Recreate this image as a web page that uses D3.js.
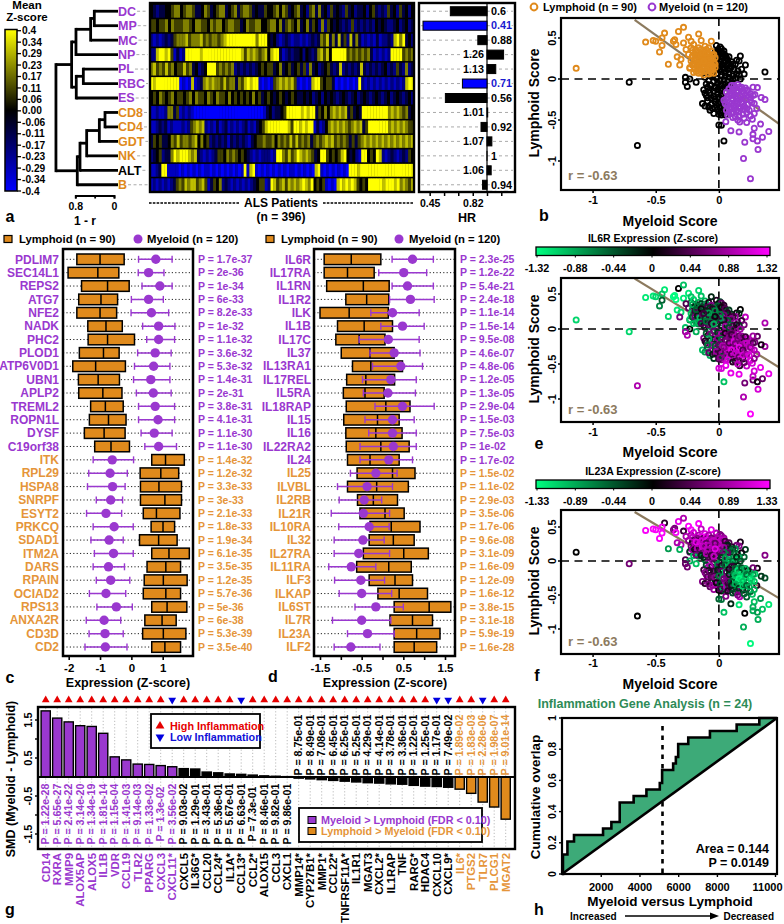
<!DOCTYPE html>
<html><head><meta charset="utf-8">
<script src="https://cdn.jsdelivr.net/npm/d3@7"></script>
<style>html,body{margin:0;padding:0;background:#fff}svg{display:block}text{font-family:"Liberation Sans",Arial,sans-serif;font-weight:bold}</style>
</head><body><div id="chart"></div>
<script>
const PURPLE="#9a38cf",ORANGE="#e08a1c",TXTOR="#e5953a",BROWN="#8c7a5e",GREEN="#2e8b57";
// ---------- panel a ----------
const cellNames=["DC","MP","MC","NP","PL","RBC","ES","CD8","CD4","GDT","NK","ALT","B"];
const cellGroup=["m","m","m","m","m","m","m","l","l","l","l","a","l"];
const hrValues=[0.6,0.41,0.88,1.26,1.13,0.71,0.56,1.01,0.92,1.07,1,1.06,0.94];
const hrTicks=[0.45,0.55,0.67,0.82,1,1.22];
const cbLabels=["0.4","0.34","0.29","0.23","0.17","0.11","0.06","0.00","-0.06","-0.11","-0.17","-0.23","-0.29","-0.34","-0.4"];
// heat rows: one digit per patient group, 0 = -0.4 (blue), 4 = 0 (black), 8 = +0.4 (yellow)
const heatRows=[
"43233445664566533465345663456356653433544564653456"+"34256363425343253423342453232534253424",
"55455646555665466554656645665534655664456646356546"+"34635426254343232523232324343223423423",
"21212323566675666756566567888888888868884342123212"+"2121232"+"365736373527363"+"12121312232"+"7868"+"342",
"22788785131288888788888888888887576765674788312323"+"3424323"+"67574"+"88888"+"565656563"+"121212"+"8888"+"5656",
"67565756455756342348885656562323232345455346345345"+"35263423453237232323732323234232532623",
"87888888880101712367676657566365787881010156767675"+"10101"+"788"+"54553"+"01010101"+"8"+"212121212121212"+"788",
"45465456455456465546546554645454546453454345434543"+"34342342434323432342343234323423432342",
"11211266351212100000000000000000000000013423345888"+"8878788"+"35464"+"676767"+"35343"+"88"+"8888888"+"6767656"+"34",
"11232312111212567672121312312121231213457888888875"+"8878788"+"1312"+"4676767656767"+"35"+"8888888"+"6767676"+"55",
"35453346575665674645232323132323213455655646565757"+"5656356567"+"6756565353"+"56"+"76767676767"+"676767",
"23452336878887673212123554656545432121222128865756"+"876765"+"34"+"88"+"54545"+"78"+"4342"+"1"+"88"+"454"+"87"+"212321232"+"54",
"11238811110101010101101010101010181781010101010101"+"10101010"+"78"+"1010101010"+"888788"+"88888888888888888",
"12121212356576775675135462321212121234551287567576"+"7678768"+"4545"+"1010"+"7878787"+"5454"+"8"+"8888788878"+"67657"
];
// dendrogram: [children..., height in 1-r]
const dendro={h:1.2,c:[
 {h:.876,c:[
  {h:.786,c:[{h:.483,c:[{h:.407,c:[{n:"DC"},{n:"MP"}]},{n:"MC"}]},{n:"NP"}]},
  {h:.78,c:[{h:.634,c:[{n:"PL"},{n:"RBC"}]},{n:"ES"}]}]},
 {h:.759,c:[{h:.703,c:[{h:.565,c:[{h:.303,c:[{h:.186,c:[{n:"CD8"},{n:"CD4"}]},{n:"GDT"}]},{n:"NK"}]},{n:"ALT"}]},{n:"B"}]}
]};
// ---------- panels c, d: [q1, median, q3, whiskLow, whiskHigh, myeloid point] ----------
const genesC=["PDLIM7","SEC14L1","REPS2","ATG7","NFE2","NADK","PHC2","PLOD1","ATP6V0D1","UBN1","APLP2","TREML2","ROPN1L","DYSF","C19orf38","ITK","RPL29","HSPA8","SNRPF","ESYT2","PRKCQ","SDAD1","ITM2A","DARS","RPAIN","OCIAD2","RPS13","ANXA2R","CD3D","CD2"];
const pC=["1.7e-37","2e-36","1e-34","6e-33","8.2e-33","1e-32","1.1e-32","3.6e-32","5.3e-32","1.4e-31","2e-31","3.8e-31","4.1e-31","1.1e-30","1.1e-30","1.4e-32","1.2e-32","3.3e-33","3e-33","2.1e-33","1.8e-33","1.9e-34","6.1e-35","3.5e-35","1.2e-35","5.7e-36","5e-36","6e-38","5.3e-39","3.5e-40"];
const statsC=[[-1.74,-1,-.23,.23,1.3,.78],[-2.02,-1.07,-.4,.22,1.04,.55],[-1.59,-.76,-.07,.34,1.3,.91],[-1.68,-.97,-.44,0,1.02,.55],[-1.74,-1,-.47,-.01,1.19,.64],[-1.39,-.81,-.29,.36,1.39,.87],[-1.38,-.76,.1,.49,1.38,.87],[-1.66,-.89,-.39,.2,1.27,.76],[-1.87,-1.14,-.19,.1,1.23,.71],[-1.69,-1.06,-.38,.07,1.23,.62],[-1.68,-.91,-.3,.16,1.27,.7],[-1.3,-.83,-.26,.23,1.38,.76],[-1.34,-.73,-.17,.23,1.38,.85],[-1.5,-.87,-.2,.31,1.3,.73],[-1.17,-.65,-.06,.43,1.44,.87],
[.65,1.09,1.69,-1.22,.07,-.61],[.28,.94,1.51,-1.36,-.13,-.68],[.29,.88,1.6,-1.4,-.2,-.6],[.29,1.07,1.6,-1.12,-.28,-.66],[.38,.8,1.55,-1.43,-.31,-.81],[.63,1.01,1.38,-1.22,.06,-.55],[.26,.87,1.46,-1.29,-.26,-.71],[.65,1.2,1.85,-1.18,.06,-.57],[.5,1.1,1.57,-1.22,-.22,-.73],[.41,1.02,1.78,-1.12,-.05,-.66],[.38,1.1,1.57,-1.34,-.18,-.81],[.65,1.14,1.77,-1.1,.03,-.48],[.43,.98,1.43,-1.44,-.34,-.87],[.36,1.02,1.74,-1.35,-.26,-.84],[.65,1.07,1.57,-1.48,-.14,-.83]];
const genesD=["IL6R","IL17RA","IL1RN","IL1R2","ILK","IL1B","IL17C","IL37","IL13RA1","IL17REL","IL5RA","IL18RAP","IL15","IL16","IL22RA2","IL24","IL25","ILVBL","IL2RB","IL21R","IL10RA","IL32","IL27RA","IL11RA","ILF3","ILKAP","IL6ST","IL7R","IL23A","ILF2"];
const pD=["2.3e-25","1.2e-22","5.4e-21","2.4e-18","1.1e-14","1.5e-14","9.5e-08","4.6e-07","4.8e-06","1.2e-05","1.3e-05","2.9e-04","1.5e-03","7.5e-03","1e-02","1.7e-02","1.5e-02","1.1e-02","2.9e-03","3.5e-06","1.7e-06","9.6e-08","3.1e-09","1.6e-09","1.2e-09","1.6e-12","3.8e-15","3.1e-18","5.9e-19","1.6e-28"];
const statsD=[[-1.4,-.75,-.04,.23,1.22,.72],[-1.4,-.84,-.2,-.09,1.06,.51],[-1.34,-.46,.16,.23,1.22,.6],[-.88,-.38,.15,.17,1.24,.67],[-1.5,-.8,.14,-.28,.88,.24],[-1.08,-.44,.24,-.04,1,.48],[-1.12,-.56,.06,-.56,.88,.14],[-.99,-.3,.28,-.3,.9,.28],[-.72,-.28,.48,-.24,.96,.44],[-.86,-.4,.29,-.48,.81,.2],[-.94,-.42,.04,-.46,.79,.13],[-.87,.08,.66,-.18,1.24,.48],[-.93,-.12,.4,-.42,.76,.24],[-.88,-.16,.47,-.33,.81,.24],[-.87,-.04,.64,-.54,.81,.26],[-.84,-.3,.4,-.54,.72,.15],
[-.61,.24,.78,-.77,.35,-.16],[-.84,-.14,.62,-1.08,.24,-.37],[-.6,-.22,.36,-1.04,-.02,-.44],[-.54,.06,.52,-1.23,.17,-.46],[-.3,.21,.9,-1.05,.16,-.32],[-.32,.26,.76,-1.16,.04,-.47],[-.46,.51,1.1,-1.16,.17,-.57],[-.62,.15,.69,-1.29,-.16,-.75],[-.32,.3,.72,-1.15,.05,-.52],[-.11,.4,1.08,-1.04,.22,-.5],[.28,1.12,1.64,-.66,.5,-.16],[.18,.72,1.2,-1.2,.2,-.5],[.28,.82,1.38,-.84,.28,-.36],[.28,.76,1.3,-1.16,-.06,-.76]];
// ---------- panels b, e, f: [myeloid, lymphoid, IL6R z, IL23A z] ----------
const lymphPts=[[-1.13,.13,-1.1,0],[-.58,.45,-1.2,1.3],[-.52,.47,-1.2,1.3],[-.5,.46,-1.1,1.3],[-.43,.56,-1.2,.2],[-.45,.5,-1,1.3],[-.47,.33,-.7,1.3],[-.45,.41,-.5,1.3],[-.4,.18,-1.1,-.8],[-.35,.48,-1.3,.6],[-.36,.46,-1.3,.7],[-.34,.42,-1.3,1.3],[-.32,.58,0,1.2],[-.28,.63,-1,.9],[-.24,.51,-1.2,1.3],[-.28,.44,-1.2,.3],[-.16,.55,-1.1,1.3],[-.14,.47,-1,1],[-.33,.27,-1.2,.9],[-.3,.24,-1.1,.9],[-.31,.17,.6,-.9],[-.23,.13,-.5,.9],[-.22,.46,-1,1.3],[-.06,.46,-.2,1.2],[-.11,.4,-.9,1.1],[-.22,.38,-.7,.8],[-.2,.42,-1.1,1.1],[-.18,.35,.1,1.3],[-.16,.38,-.9,.9],[-.14,.36,-.3,1.2],[-.12,.33,.4,.2],[-.1,.36,-.8,1.3],[-.08,.38,.1,.9],[-.06,.34,.7,.6],[-.04,.3,-.6,1],[-.24,.3,.5,.7],[-.21,.28,-.8,.1],[-.19,.31,-.2,.4],[-.17,.27,.6,1],[-.15,.3,-.7,.3],[-.13,.26,.2,.2],[-.11,.29,-.9,1.1],[-.09,.27,.7,.5],[-.07,.25,-.5,1.2],[-.05,.24,.3,.8],[-.22,.22,-1,.6],[-.2,.2,-.6,.3],[-.18,.23,.4,.2],[-.16,.19,-.8,-.2],[-.14,.22,0,.9],[-.12,.18,-.5,.1],[-.1,.21,.6,.4],[-.08,.19,-.9,1.2],[-.06,.17,.2,.7],[-.04,.2,-.3,.9],[-.23,.14,-1.1,-.3],[-.19,.12,-.4,.3],[-.17,.15,-.9,-.1],[-.15,.11,.3,-.5],[-.13,.14,-.6,.5],[-.11,.09,.7,-.4],[-.09,.13,-.2,.6],[-.07,.1,-1,.2],[-.05,.12,.4,1],[-.03,.14,-.5,.5],[-.16,.07,-.7,-.7],[-.12,.05,-.2,-.2],[-.08,.06,.5,.4],[-.2,.08,-1,-1],[-.26,.36,.4,.9],
[-.21,.35,-.9,1],[-.19,.25,.3,.9],[-.17,.33,-.6,.7],[-.15,.25,.5,1.1],[-.13,.31,-.4,.9],[-.11,.24,-.7,.6],[-.09,.31,.4,1.2],[-.07,.3,-.3,.8],[-.05,.29,.2,1],[-.03,.26,-.7,.5],[-.21,.17,-.5,.8],[-.19,.17,.6,.2],[-.17,.19,-.2,.9],[-.15,.16,-1,.4],[-.13,.21,.5,1.1],[-.11,.15,-.3,.7],[-.09,.17,-.8,1],[-.07,.15,.3,.3],[-.05,.16,-.6,.8],[-.03,.18,.1,1.2],[-.18,.09,-.9,.6],[-.14,.08,.4,-.2],[-.1,.11,-.6,.9],[-.06,.08,.2,.3],[-.04,.07,-.9,1],[-.18,.28,-.5,1.2],[-.14,.29,.1,1.1],[-.1,.26,-.2,.5],[-.08,.23,-.8,.9],[-.12,.22,.3,1]];
const otherPts=[[-.71,-.04,-1.1,.6],[-.645,-.81,.9,0],[.365,.085,.9,.7],[.04,-.755,-1,-1],[0,-.56,1.1,-.5],[.02,-.565,1.1,-.6],[-.02,.41,.2,.9],[.01,.39,-.4,.6],[-.005,.36,-.1,1],[.02,.37,.5,.7],[.035,.31,.4,1.1],[-.03,.33,-.2,.8],[0,.3,-.3,.5],[.03,.28,.7,.4],[-.01,.27,.1,1.2],[.06,.26,-.6,.3],[.17,.28,0,.1],[.14,.23,.1,.6],[.16,.22,-.2,.7],[.21,.17,1,-.3],[.13,.18,.8,-.8],[.1,.21,-.2,.2],[.08,.19,.5,.6],[.05,.22,-.4,-.1],[.02,.24,.2,.7],[-.02,.22,-.7,1.1],[0,.19,.3,1],[.03,.17,-.9,-.3],[.06,.16,.9,.2],[.09,.13,.6,-.7],[.12,.12,-.4,-.3],[.15,.1,.9,-.6],[.18,.12,.3,.1],[.2,.06,.6,-.5],[.16,.05,-.3,-.9],[-.03,.13,-.8,.9],[0,.11,.2,.6],[.02,.09,-1,.4],[.05,.08,.7,.8],[.08,.06,-.6,-.2],[.11,.04,.4,-.8],[.13,.01,.1,-1.1],[-.265,.02,-1,.4],[-.23,0,0,-.9],[-.265,-.04,.8,.5],[-.25,-.09,.9,.6],[-.18,-.04,-.9,-1],[-.11,.02,.3,-.6],[-.08,-.02,-.2,.9],[-.05,.03,.7,.7],[-.02,.01,-.7,-.3],[.01,-.02,.5,-.8],[.04,-.01,-.1,.2],[.07,-.03,.8,-1.2],[.1,-.05,.4,-.5],[-.12,-.13,.7,.3],[-.09,-.1,.1,.8],[-.06,-.08,-.8,-.1],[-.03,-.11,.9,.7],[0,-.09,-.4,.4],[.03,-.12,.3,-.9],[.06,-.1,.7,-1],[-.1,-.2,.3,.5],[-.07,-.17,-.3,-.2],[-.04,-.21,.8,.6],[-.01,-.18,.2,-.4],[.02,-.2,.6,-.1],[-.13,-.3,-1,.7],[-.09,-.27,.4,.9],[-.06,-.31,.9,.1],[-.03,-.28,-.4,-.2],[0,-.3,.8,.3],[.03,-.27,.2,-.3],[-.07,-.38,-.9,.5],[-.04,-.42,-.3,.8],[-.01,-.37,.7,.2],[.02,-.44,.6,-.1],[.05,-.44,1,-.4],[0,-.43,.4,0],[-.03,-.35,.3,.9],
[.04,.34,.2,.8],[-.01,.33,-.5,.9],[.02,.31,.1,1],[.05,.29,.4,.3],[.08,.27,-.3,.4],[.07,.23,.2,-.2],[.04,.2,.6,.8],[.01,.21,-.6,.9],[.11,.18,.3,-.4],[.1,.15,.7,-.6],[.07,.12,-.5,.5],[.04,.13,.2,-.7],[.01,.15,-.8,.6],[-.02,.16,.3,1],[-.04,.09,-.6,.7],[-.01,.07,.4,.4],[.02,.05,-.2,-.3],[.05,.04,.8,-.8],[.08,.02,-.4,-.9],[.11,0,.6,-.6],[.14,.06,.2,-.2],[.17,0,.8,-.4],[-.07,.04,-.7,.8],[-.04,-.03,.5,.5],[-.01,-.05,-.3,-.7],[.02,-.07,.9,.2],[.05,-.06,.1,-.5],[.08,-.08,.5,-.9],[-.1,-.06,-.5,-.4],[-.07,-.07,.6,.9],[-.04,-.15,-.2,.3],[-.01,-.13,.7,-.2],[.02,-.15,-.6,.5],[.05,-.16,.4,-1],[-.08,-.14,-.9,.2],[-.11,-.17,.2,.7],[-.06,-.23,.8,.4],[-.03,-.24,-.5,.7],[0,-.22,.5,-.6],[.03,-.24,.9,-.8],[-.09,-.23,-.6,.5],[-.11,-.33,-.8,.2],[-.08,-.34,.5,.6],[-.05,-.36,-.2,.8],[-.02,-.32,.8,.1],[.01,-.34,.3,-.4],[.04,-.33,.9,-.3],[.03,-.39,-.4,-.9],[.01,-.41,.7,.4]];
const myelPts=[[.25,-1.215,1.3,-1.3],[.195,-.97,.9,-.9],[.31,-.86,1.1,-.9],[.205,-.77,.6,0],[.27,-.73,.5,-.9],[.305,-.755,.1,-.8],[.345,-.71,.5,-1],[.395,-.64,1.2,-1.2],[.33,-.55,1.2,-.8],[.28,-.6,1.1,-1],[.27,-.675,1,-.9],[.095,-.63,1.2,-.2],[.16,-.645,1.2,-1.2],[.055,-.52,1.2,.7],[.165,-.525,.2,.9],[.22,-.53,1,-.5],[.265,-.49,1.1,-1],[.365,-.25,.8,-.4],[.335,-.225,.1,-.3],[.305,-.105,.5,.1],[.27,-.1,.8,.6],[.22,-.135,.9,-1],[.285,-.19,.6,-1.1],[.25,-.18,.7,-1.2],[.3,-.36,.9,.2],[.05,-.3,.5,.8],[.07,-.22,.9,.9],[.09,-.17,1,-.1],[.06,-.38,.7,.9],[.1,-.42,-.9,.3],[.12,-.08,.6,.2],[.15,-.07,.9,-.2],[.11,-.13,.3,-.9],[.14,-.16,1,-.6],[.17,-.12,.5,-1],[.08,-.28,1.2,.6],[.11,-.25,.7,-.3],[.14,-.24,1.2,-1.2],[.17,-.2,.9,-1.1],[.2,-.17,.2,-.5],[.23,-.14,1,-.2],[.09,-.34,.8,-.4],[.12,-.32,1.2,-.1],[.15,-.3,.3,-1.3],[.18,-.28,1.3,-1.2],[.21,-.25,.6,-1],[.24,-.22,1,-1.2],[.27,-.2,.4,-.8],[.11,-.4,.2,.2],[.14,-.38,.9,-.1],[.17,-.36,1.2,-1.3],[.2,-.33,.7,-1.2],[.23,-.31,1.1,-.7],[.26,-.29,1.2,-1.3],[.13,-.46,.3,-.3],[.16,-.45,.9,.6],[.19,-.43,.1,-.2],[.22,-.41,1.2,.1],[.25,-.45,1.1,-.5],[.28,-.42,.7,-.9],[.06,-.16,.6,.5],[.1,-.2,.9,-.8],[.13,-.28,.4,-1.1],[.16,-.34,1.1,-.6],[.19,-.24,.8,-1.3],[.08,-.36,.5,.4],[.12,-.36,1,-.7],[.15,-.21,.7,-1.1],[.18,-.15,.9,-1],
[.08,-.12,.7,.1],[.1,-.08,.3,.3],[.13,-.11,.9,-.5],[.16,-.1,.5,-.8],[.06,-.24,1,.7],[.08,-.2,.4,-.2],[.12,-.18,1.1,-.7],[.15,-.14,.6,-1.2],[.18,-.1,.8,-.4],[.21,-.11,.3,-.9],[.07,-.32,.9,.3],[.1,-.3,1.2,-.5],[.13,-.21,.6,-1],[.16,-.26,1.2,-1.3],[.19,-.3,.4,-1],[.22,-.2,1,-.6],[.25,-.26,.7,-1.1],[.08,-.41,1,.5],[.1,-.36,.4,-.2],[.13,-.34,1,-.9],[.16,-.4,.5,-.3],[.19,-.37,1.1,-1.1],[.22,-.36,.8,-.5],[.04,-.26,.7,.6],[.07,-.44,1.1,.2],[.11,-.47,.2,-.4],[.15,-.5,1,.7],[.2,-.48,.5,-.5],[.24,-.38,1.1,-.9],[.28,-.3,.9,-1]];
const fitLine=[[-.667,.72],[.479,-.55]];
// ---------- panel g ----------
const smdGenes=["CD14","RXRA","MMP9","ALOX5AP","ALOX5","IL1B","VDR","CCL19","TLR2","PPARG","CXCL3","CXCL11*","CXCL5","IL36G*","CCL20","CCL24*","IL1A*","CCL13*","CCL2*","ALOX15","CCL3","CXCL1","MMP14*","CYP27B1*","MMP1*","CCL22*","TNFRSF11A*","IL1R1","MGAT3","CXCL2*","IL1RAP","TNF","RARG*","HDAC4","CXCL10","CXCL9*","IL6*","PTGS2","TLR7","PLCG1","MGAT2"];
const smdValues=[1.74,1.55,1.45,1.35,1.33,1.15,.53,.45,.34,.33,.3,.27,.22,.21,.13,.11,.08,.07,.05,.03,.02,.01,-.03,-.05,-.07,-.09,-.11,-.13,-.15,-.16,-.18,-.19,-.22,-.24,-.25,-.27,-.32,-.43,-.66,-.79,-1.11];
const smdP=["1.22e-28","5.65e-27","2.41e-22","3.14e-20","1.34e-19","1.81e-14","1.15e-04","1.41e-03","9.14e-03","1.33e-02","1.3e-02","3.56e-02","9.03e-02","1.29e-01","3.43e-01","5.36e-01","5.67e-01","6.63e-01","7.3e-01","8.46e-01","9.82e-01","9.86e-01","8.75e-01","8.49e-01","7.08e-01","6.45e-01","6.25e-01","5.25e-01","4.29e-01","4.14e-01","3.78e-01","3.36e-01","1.22e-01","1.25e-01","1.17e-01","7.49e-02","1.89e-02","1.83e-03","2.28e-06","1.98e-07","9.01e-14"];
const lowInflammation=["CXCL11*","CCL13*","CXCL10","CXCL9*","TLR7"];
// ---------- panel h ----------
const overlapX=[0,50,280,620,2120,2550,2980,3700,4360,5050,5170,5740,5880,6000,6520,7640,9020,10190,11100];
const overlapY=[0,.125,.208,.25,.292,.333,.458,.5,.542,.583,.667,.708,.75,.833,.875,.917,.958,1,1];

const svg=d3.select("#chart").append("svg").attr("width",784).attr("height",924).attr("viewBox","0 0 784 924");
const defs=svg.append("defs");
function T(x,y,s,o={}){const t=svg.append("text").attr("x",x).attr("y",y).attr("dy",".35em").text(s)
 .attr("font-size",o.fs||11).attr("fill",o.c||"#000").attr("text-anchor",o.a||"start");
 if(o.r)t.attr("transform",`rotate(-90 ${x} ${y})`);
 if(o.halo)t.attr("stroke","#fff").attr("stroke-width",3).attr("paint-order","stroke");
 return t;}
function grad(id,stops,horiz){const g=defs.append("linearGradient").attr("id",id).attr("x1",0).attr("y1",horiz?0:1).attr("x2",horiz?1:0).attr("y2",0);
 stops.forEach((c,i)=>g.append("stop").attr("offset",i/(stops.length-1)).attr("stop-color",c));}
function rectBox(x0,y0,x1,y1,w=2.4,fill="none"){return svg.append("rect").attr("x",x0).attr("y",y0).attr("width",x1-x0).attr("height",y1-y0).attr("fill",fill).attr("stroke","#000").attr("stroke-width",w);}
function L(x1,y1,x2,y2,c="#000",w=1.5,d=null){const l=svg.append("line").attr("x1",x1).attr("y1",y1).attr("x2",x2).attr("y2",y2).attr("stroke",c).attr("stroke-width",w);if(d)l.attr("stroke-dasharray",d);return l;}

// ===== a =====
T(27,5,"Mean",{fs:11.5,a:"middle"});T(27,17,"Z-score",{fs:11.5,a:"middle"});
grad("hm",["#0000ff","#000000","#ffff00"],false);
rectBox(5,29.5,17,191,1.5,"url(#hm)");
const cbY=d3.scalePoint().domain(cbLabels).range([30.7,191]);
cbLabels.forEach(l=>{L(17,cbY(l),21,cbY(l),"#000",1.3);T(22,cbY(l),l,{fs:10.2});});
const rowY=d3.scaleBand().domain(cellNames).range([4,192]);
const heatColor=d3.scaleLinear().domain([-.4,0,.4]).range(["#0000ff","#000","#ffff00"]);
svg.append("rect").attr("x",150).attr("y",3).attr("width",264).attr("height",189).attr("fill","#000");
heatRows.forEach((row,i)=>{const vals=row.split("").map(d=>(+d-4)/10);
 const x=d3.scaleLinear().domain([0,vals.length]).range([150,414]);
 svg.append("g").selectAll("rect").data(vals).join("rect").attr("x",(d,j)=>x(j)).attr("width",(d,j)=>x(j+1)-x(j)+.3)
  .attr("y",rowY(cellNames[i])+.8).attr("height",rowY.bandwidth()-1.6).attr("fill",d=>heatColor(d));});
rectBox(150,3,414,192,2.4);
// labels & dendrogram
const groupColor={m:PURPLE,l:ORANGE,a:"#000"};
cellNames.forEach((n,i)=>{const yy=rowY(n)+rowY.bandwidth()/2;
 const t=T(118,yy,n,{fs:12.5,c:groupColor[cellGroup[i]]});
 const w=t.node().getComputedTextLength();
 L(118+w+1,yy,148,yy,"#aaa",1,"3,2.5");});
const dx=d3.scaleLinear().domain([0,.8]).range([114,75.3]);
const root=d3.hierarchy(dendro,d=>d.c);
root.eachAfter(n=>{n.py=n.children?d3.mean(n.children,c=>c.py):rowY(n.data.n)+rowY.bandwidth()/2;n.px=n.children?dx(n.data.h):118;});
root.each(n=>{if(n.children){
 L(n.px,n.children[0].py,n.px,n.children[1].py,"#000",2.8).attr("stroke-linecap","square");
 n.children.forEach(c=>L(n.px,c.py,c.px,c.py,"#000",2.8));}});
const dAxis=d3.axisBottom(dx).tickValues([0,.4,.8]).tickSize(3).tickFormat(d=>d===.4?"":d);
const da=svg.append("g").attr("transform","translate(0,195.5)").call(dAxis);
da.selectAll("line,path").attr("stroke","#000").attr("stroke-width",1.8);
da.selectAll("text").attr("font-size",10.5).attr("fill","#000").attr("y",7);
T(85,221,"1 - r",{fs:12,a:"middle"});
T(10,216,"a",{fs:16,a:"middle"});
// ALS patients
T(281,203,"ALS Patients",{fs:12,a:"middle"});T(281,217,"(n = 396)",{fs:12,a:"middle"});
L(149,203,240,203,"#000",1.5,"2.6,1.2");L(323,203,413,203,"#000",1.5,"2.6,1.2");
// HR
const hrX=d3.scaleLog().domain([.41,1]).range([423,487]);
rectBox(419,3,515,192,2.4);
cellNames.forEach(n=>{const yy=rowY(n)+rowY.bandwidth()/2;L(421,yy,513,yy,"#aaa",1,"3,3");});
L(487,4,487,191,"#000",1.2);
hrValues.forEach((v,i)=>{const yy=rowY(cellNames[i])+rowY.bandwidth()/2,sig=cellNames[i]==="MP"||cellNames[i]==="RBC";
 const a=hrX(Math.min(v,1)),b=hrX(Math.max(v,1));
 svg.append("rect").attr("x",a).attr("y",yy-4.5).attr("width",Math.max(b-a,.01)).attr("height",9).attr("fill",sig?"#0000ff":"#000").attr("stroke","#000").attr("stroke-width",1);
 T(v<=1?491:484,yy,String(v),{fs:10.8,a:v<=1?"start":"end",c:sig?"#1a1ad0":"#000",halo:true});});
const hrA=svg.append("g").attr("transform","translate(0,192)").call(d3.axisBottom(hrX).tickValues(hrTicks).tickSize(4).tickFormat(d=>(d===.45||d===.82)?d:""));
hrA.select(".domain").remove();hrA.selectAll("line").attr("stroke","#000").attr("stroke-width",1.5);
hrA.selectAll("text").attr("font-size",10.5).attr("fill","#000").attr("y",8);
T(467,218,"HR",{fs:12.5,a:"middle"});

// ===== c, d =====
function legend(x,cx,tx){svg.append("rect").attr("x",x).attr("y",235.5).attr("width",8).attr("height",7).attr("fill",ORANGE).attr("stroke","#000").attr("stroke-width",1.2);
 T(x+15,239,"Lymphoid (n = 90)",{fs:11.3});
 svg.append("circle").attr("cx",cx).attr("cy",239).attr("r",4.5).attr("fill",PURPLE);
 T(tx,239,"Myeloid (n = 120)",{fs:11.3});}
legend(4,138,147);legend(266,399,409);
const rowsY=i=>259.3+i*13.37;
function panel(genes,pv,stats,x,b0,b1,labX,pX,split,ticks,lab,titleX,titleTxt){
 genes.forEach((g,i)=>{const yy=rowsY(i),col=i<split?PURPLE:TXTOR;
  T(labX,yy,g,{fs:12,a:"end",c:col});T(pX,yy,"P = "+pv[i],{fs:10.5,c:col});
  L(b0,yy,b1,yy,"#222",1,"1.2,2.2");});
 const gg=svg.append("g");
 stats.forEach((s,i)=>{const yy=rowsY(i);
  gg.append("rect").attr("x",x(s[0])).attr("y",yy-5.3).attr("width",x(s[2])-x(s[0])).attr("height",10.6).attr("fill",ORANGE).attr("stroke","#000").attr("stroke-width",1.5);
  gg.append("line").attr("x1",x(s[1])).attr("x2",x(s[1])).attr("y1",yy-5.3).attr("y2",yy+5.3).attr("stroke","#000").attr("stroke-width",1.5);});
 stats.forEach((s,i)=>{const yy=rowsY(i);
  gg.append("line").attr("x1",x(s[3])).attr("x2",x(s[4])).attr("y1",yy).attr("y2",yy).attr("stroke",PURPLE).attr("stroke-width",1.5);
  [s[3],s[4]].forEach(v=>gg.append("line").attr("x1",x(v)).attr("x2",x(v)).attr("y1",yy-3.5).attr("y2",yy+3.5).attr("stroke",PURPLE).attr("stroke-width",1.4));
  gg.append("circle").attr("cx",x(s[5])).attr("cy",yy).attr("r",4.7).attr("fill",PURPLE);});
 rectBox(b0,249,b1,656,2.5);
 const ax=svg.append("g").attr("transform","translate(0,656)").call(d3.axisBottom(x).tickValues(ticks).tickSize(4).tickFormat(d=>lab(d)));
 ax.select(".domain").remove();ax.selectAll("line").attr("stroke","#000").attr("stroke-width",1.6);
 ax.selectAll("text").attr("font-size",11.5).attr("fill","#000").attr("y",8);
 T(titleX,683,titleTxt,{fs:12.5,a:"middle"});
}
const xC=d3.scaleLinear().domain([-2,1]).range([68.7,162.7]);
const xD=d3.scaleLinear().domain([-1.5,1.5]).range([320,445]);
panel(genesC,pC,statsC,xC,63,193,59,198,15,[-2,-1,0,1],d=>d,128,"Expression (Z-score)");
panel(genesD,pD,statsD,xD,314,455,311,460,16,[-1.5,-1,-.5,0,.5,1,1.5],d=>(Math.abs(d)===.5||Math.abs(d)===1.5)?d:"",385,"Expression (Z-score)");
T(10,677,"c",{fs:16,a:"middle"});T(273,676,"d",{fs:16,a:"middle"});

// ===== b, e, f =====
const sx=d3.scaleLinear().domain([-1.25,.476]).range([561,779]);
const allPts=[...otherPts.map(d=>[...d,"#000"]),...lymphPts.map(d=>[...d,ORANGE]),...myelPts.map(d=>[...d,PURPLE])];
function scatter(top,bot,y0,y5,colorOf,titleY,tickY,rY){
 const sy=d3.scaleLinear().domain([0,.5]).range([y0,y5]);
 const clip="c"+top;defs.append("clipPath").attr("id",clip).append("rect").attr("x",561).attr("y",top).attr("width",218).attr("height",bot-top);
 const g=svg.append("g").attr("clip-path",`url(#${clip})`);
 g.append("line").attr("x1",sx(fitLine[0][0])).attr("y1",sy(fitLine[0][1])).attr("x2",sx(fitLine[1][0])).attr("y2",sy(fitLine[1][1])).attr("stroke",BROWN).attr("stroke-width",2.2);
 g.append("line").attr("x1",561).attr("x2",779).attr("y1",sy(0)).attr("y2",sy(0)).attr("stroke","#000").attr("stroke-width",1.6).attr("stroke-dasharray","8,5.5");
 g.append("line").attr("x1",sx(0)).attr("x2",sx(0)).attr("y1",top).attr("y2",bot).attr("stroke","#000").attr("stroke-width",1.6).attr("stroke-dasharray","8,5.5");
 g.selectAll("circle").data(allPts).join("circle").attr("cx",d=>sx(d[0])).attr("cy",d=>sy(d[1])).attr("r",2.6).attr("fill","none").attr("stroke",colorOf).attr("stroke-width",1.8);
 rectBox(561,top,779,bot,2.2);
 const xa=svg.append("g").attr("transform",`translate(0,${bot})`).call(d3.axisBottom(sx).tickValues([-1,-.5,0]).tickSize(3).tickFormat(d=>d));
 xa.select(".domain").remove();xa.selectAll("line").attr("stroke","#000").attr("stroke-width",1.5);
 xa.selectAll("text").attr("font-size",11).attr("fill","#000").attr("y",tickY-bot-5).attr("dy",".35em").text(d=>d);
 [.5,0,-.5,-1].forEach(v=>{L(558,sy(v),561,sy(v),"#000",1.5);T(552,sy(v),v,{fs:11,a:"middle",r:true});});
 T(534,(top+bot)/2-1,"Lymphoid Score",{fs:14,a:"middle",r:true});
 T(670,titleY,"Myeloid Score",{fs:14,a:"middle"});
 T(568,rY,"r = -0.63",{fs:13,c:BROWN});
}
scatter(18,190,79,38,d=>d[4],221,205,175);
const z6=d3.scaleLinear().domain([-1.32,0,1.32]).range(["#00ff80","#000","#ff00ff"]).clamp(true);
const z23=d3.scaleLinear().domain([-1.33,0,1.33]).range(["#00ff80","#000","#ff00ff"]).clamp(true);
scatter(278,422,329,294,d=>z6(d[2]),452,437,409);
scatter(510,654,561,527,d=>z23(d[3]),684,668,641);
svg.append("circle").attr("cx",534).attr("cy",7).attr("r",3.4).attr("fill","none").attr("stroke",ORANGE).attr("stroke-width",2);
T(543,7,"Lymphoid (n = 90)",{fs:11});
svg.append("circle").attr("cx",652).attr("cy",7).attr("r",3.4).attr("fill","none").attr("stroke",PURPLE).attr("stroke-width",2);
T(659,7,"Myeloid (n = 120)",{fs:11});
T(544,215,"b",{fs:16,a:"middle"});T(539,443,"e",{fs:16,a:"middle"});T(537,675,"f",{fs:16,a:"middle"});
// colorbars
grad("gm",["#00ff80","#000000","#ff00ff"],true);
function cbar(y,title,ticks){T(653,y-9,title,{fs:10.5,a:"middle"});
 rectBox(536,y,770,y+8.5,1.3,"url(#gm)");
 const s=d3.scalePoint().domain(ticks).range([537,767]);
 ticks.forEach(t=>{L(s(t),y+8.5,s(t),y+10.5,"#000",1);T(s(t),y+21,t,{fs:10.8,a:"middle"});});}
cbar(247,"IL6R Expression (Z-score)",["-1.32","-0.88","-0.44","0","0.44","0.88","1.32"]);
cbar(480,"IL23A Expression (Z-score)",["-1.33","-0.89","-0.44","0","0.44","0.89","1.33"]);

// ===== g =====
const gx=d3.scaleBand().domain(smdGenes).range([45.7-5.75,505.7+5.75]);
const gxc=g=>gx(g)+gx.bandwidth()/2;
const gy=d3.scaleLinear().domain([-1,1]).range([815,739]);
const smdColor=i=>i<12?PURPLE:i<36?"#000":ORANGE;
const smdText=i=>i<12?PURPLE:i<36?"#000":TXTOR;
smdGenes.forEach(g=>L(gxc(g),708,gxc(g),848,"#aaa",.8,"1.2,2"));
svg.append("g").selectAll("rect").data(smdValues).join("rect")
 .attr("x",(d,i)=>gxc(smdGenes[i])-4.6).attr("width",9.2)
 .attr("y",d=>gy(Math.max(d,0))).attr("height",d=>Math.abs(gy(d)-gy(0)))
 .attr("fill",(d,i)=>smdColor(i)).attr("stroke","#000").attr("stroke-width",1.4);
L(38,gy(0),515,gy(0),"#000",1.8);
rectBox(38,707,515,849,2.4);
smdGenes.forEach((g,i)=>{const x=gxc(g),up=smdValues[i]>0;
 T(x,up?814:745,"P = "+smdP[i],{fs:10.6,a:"middle",r:true,c:smdText(i)});
 T(x,853,g,{fs:11.4,a:"end",r:true,c:smdText(i)});
 const low=lowInflammation.includes(g);
 svg.append("path").attr("d",d3.symbol(d3.symbolTriangle,26)()).attr("transform",`translate(${x},700)${low?" rotate(180)":""}`).attr("fill",low?"#0000e0":"#e60000");});
[-1.5,-1,-.5,.5,1,1.5].forEach(v=>{L(35,gy(v),38,gy(v),"#000",1.4);if(Math.abs(v)!==1)T(28,gy(v),v,{fs:11,a:"middle",r:true});});
T(11,779,"SMD (Myeloid - Lymphoid)",{fs:12.5,a:"middle",r:true});
T(10,909,"g",{fs:16,a:"middle"});
rectBox(151,714,260,748,1.8,"#fff");
svg.append("path").attr("d",d3.symbol(d3.symbolTriangle,34)()).attr("transform","translate(160,726)").attr("fill","#e60000");
svg.append("path").attr("d",d3.symbol(d3.symbolTriangle,34)()).attr("transform","translate(160,737) rotate(180)").attr("fill","#0000e0");
T(170,726,"High Inflammation",{fs:10.8,c:"#e60000"});T(170,737,"Low Inflammation",{fs:10.8,c:"#1010d8"});
rectBox(299,808,482,842,1.8,"#fff");
[[820,PURPLE,"Myeloid > Lymphoid (FDR < 0.10)"],[831,ORANGE,"Lymphoid > Myeloid (FDR < 0.10)"]].forEach(d=>{
 svg.append("rect").attr("x",308).attr("y",d[0]-3.5).attr("width",8).attr("height",7).attr("fill",d[1]).attr("stroke","#000").attr("stroke-width",1);
 T(321,d[0],d[2],{fs:10.8,c:d[1]===ORANGE?TXTOR:PURPLE});});

// ===== h =====
T(645,704,"Inflammation Gene Analysis (n = 24)",{fs:12.5,a:"middle",c:GREEN});
const hx=d3.scaleLinear().domain([0,11000]).range([562,775]);
const hy=d3.scaleLinear().domain([0,1]).range([874,718]);
L(hx(5190),726,hx(5190),874,"#000",2.6,"4.5,5");
const steps=[];overlapX.forEach((x,i)=>{if(i>0)steps.push([x,overlapY[i-1]]);steps.push([x,overlapY[i]]);});
const hLine=d3.line().x(d=>hx(d[0])).y(d=>hy(d[1]));
const xEnd=overlapX[overlapX.length-1];
const poly=[...steps,[xEnd,1],[0,0]];
svg.append("path").attr("d",hLine(poly)+"Z").attr("fill","#3daa78");
svg.append("path").attr("d",hLine(steps)).attr("fill","none").attr("stroke","#000").attr("stroke-width",2.6);
svg.append("path").attr("d",hLine([[0,0],[xEnd,1]])).attr("stroke","#000").attr("stroke-width",2.6).attr("fill","none");
rectBox(562,718,777,874,2.2);
const hxa=svg.append("g").attr("transform","translate(0,874)").call(d3.axisBottom(hx).tickValues([2000,4000,6000,8000,11000]).tickSize(3).tickFormat(d=>d));
hxa.select(".domain").remove();hxa.selectAll("line").attr("stroke","#000").attr("stroke-width",1.4);
hxa.selectAll("text").attr("font-size",11).attr("fill","#000").attr("y",9).attr("dx",d=>d===11000?-8:0);
[0,.2,.4,.6,.8,1].forEach(v=>{L(559,hy(v),562,hy(v),"#000",1.4);T(552,hy(v),v,{fs:10.5,a:"middle",r:true});});
T(535,797,"Cumulative overlap",{fs:13.5,a:"middle",r:true});
T(769,849,"Area = 0.144",{fs:12.5,a:"end"});T(769,863,"P = 0.0149",{fs:12.5,a:"end"});
T(670,901,"Myeloid versus Lymphoid",{fs:13.5,a:"middle"});
T(539,909,"h",{fs:16,a:"middle"});
T(570,916,"Increased",{fs:10});T(774,916,"Decreased",{fs:10,a:"end"});
L(625,916,713,916,"#000",1.4);
svg.append("path").attr("d","M710,912.5L719,916L710,919.5Z").attr("fill","#000");
</script></body></html>
